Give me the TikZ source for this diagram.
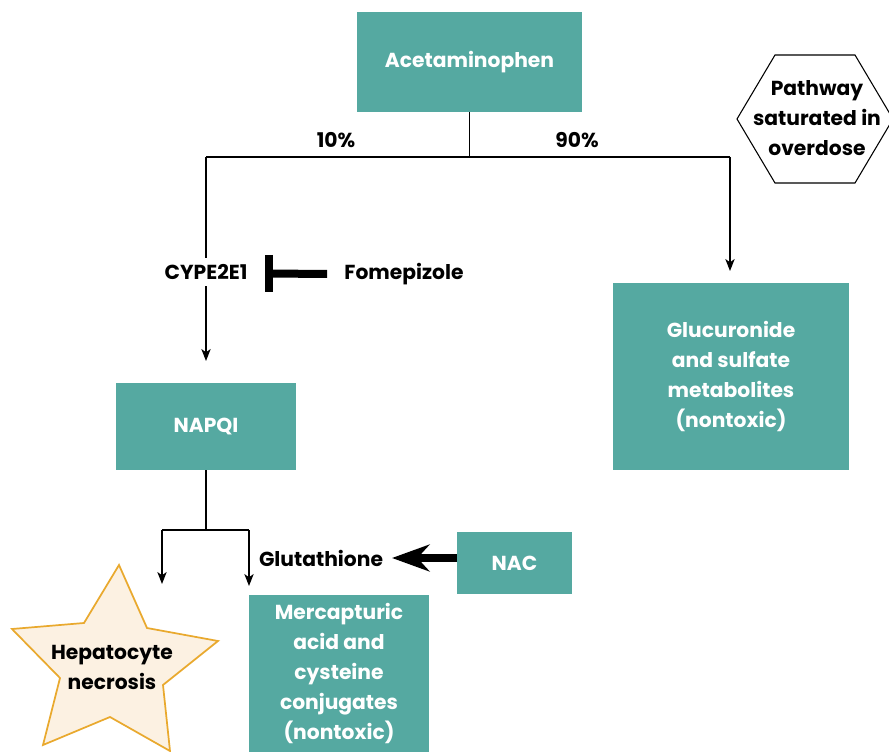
\documentclass[tikz,border=0pt]{standalone}
\usepackage{fontspec}
\setmainfont{Poppins}
\usetikzlibrary{arrows.meta,calc}
\definecolor{teal1}{HTML}{55A9A1}
\definecolor{starfill}{HTML}{FCF1E2}
\definecolor{starline}{HTML}{E9A92E}
\tikzset{
  box/.style={fill=teal1, draw=none, text=white, font=\bfseries\fontsize{15.2}{22.5}\selectfont, align=center, inner sep=0pt},
  lbl/.style={font=\bfseries\fontsize{15.2}{22.5}\selectfont, align=center, inner sep=0pt},
  conn/.style={line width=0.9pt, -{Stealth[length=9pt,width=7pt,inset=2.5pt]}},
  plain/.style={line width=0.9pt}
}
\begin{document}
\begin{tikzpicture}[x=0.75pt,y=-0.75pt]
\useasboundingbox (0,0) rectangle (889,752);
\clip (0,0) rectangle (889,752);
% boxes
\node[box, minimum width=225*0.75pt, minimum height=100*0.75pt] (acet) at (469.5,62) {Acetaminophen};
\node[box, minimum width=236*0.75pt, minimum height=187*0.75pt] (gluc) at (731,376.5) {Glucuronide\\and sulfate\\metabolites\\(nontoxic)};
\node[box, minimum width=180*0.75pt, minimum height=87*0.75pt] (napqi) at (206,426.5) {NAPQI};
\node[box, minimum width=115*0.75pt, minimum height=62*0.75pt] (nac) at (514.5,563) {NAC};
\node[box, minimum width=180*0.75pt, minimum height=157*0.75pt] (merc) at (339,673.5) {Mercapturic\\acid and\\cysteine\\conjugates\\(nontoxic)};
% hexagon
\draw[line width=0.8pt, fill=white] (737,119) -- (775,55) -- (855,55) -- (893,119) -- (855,183) -- (775,183) -- cycle;
\node[lbl] (hex) at (817,118) {Pathway\\saturated in\\overdose};
% star
\draw[line width=1.3pt, draw=starline, fill=starfill]
  (119,565) -- (147,628) -- (218,641) -- (163,685) -- (170,751) -- (110,717) -- (43,745) -- (60,678) -- (12,629) -- (84,623) -- cycle;
\node[lbl] (hep) at (112,667) {Hepatocyte\\necrosis};
% labels
\node[lbl] (p10) at (336,140) {10\%};
\node[lbl] (p90) at (577,140) {90\%};
\node[lbl] (fome) at (404,274) {Fomepizole};
\node[lbl] (glut) at (321,558) {Glutathione};
% split from acetaminophen
\coordinate (s1) at (469.5,157);
\coordinate (sl) at (206,157);
\coordinate (sr) at (730,157);
\draw[plain] (acet.south) -- (s1);
\draw[plain] (sl) -- (sr);
\coordinate (tipL) at (206,361);
\draw[conn] (sl) -- (tipL);
\coordinate (tipR) at (730,271);
\draw[conn] (sr) -- (tipR);
\node[lbl, fill=white, inner ysep=5pt, inner xsep=2pt] (cype) at (206,272) {CYPE2E1};
% inhibition
\coordinate (inh) at (269,273.5);
\draw[line width=6pt] ([xshift=-12.75pt]fome.west) -- (inh);
\draw[line width=6pt] ([yshift=13.9pt]inh) -- ([yshift=-13.9pt]inh);
% napqi split
\coordinate (n1) at (206,530);
\coordinate (nl) at (162,530);
\coordinate (nr) at (249,530);
\draw[plain] (napqi.south) -- (n1);
\draw[plain] (nl) -- (nr);
\coordinate (tipH) at (162,584);
\coordinate (tipM) at (249,586);
\draw[conn] (nl) -- (tipH);
\draw[conn] (nr) -- (tipM);
% NAC arrow
\coordinate (nacw) at (457,558);
\coordinate (tipG) at (392,558);
\draw[line width=6pt, -{Stealth[length=28pt,width=20pt,inset=9pt]}] (nacw) -- (tipG);
\end{tikzpicture}
\end{document}
